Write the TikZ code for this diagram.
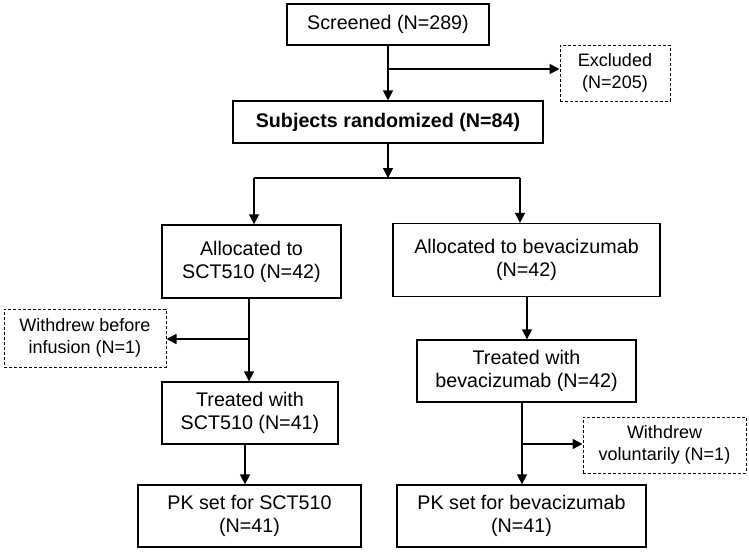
\documentclass[tikz,border=0pt]{standalone}
\usepackage{fontspec}
\setmainfont{Liberation Sans}
\usetikzlibrary{arrows.meta}
\begin{document}
\begin{tikzpicture}[x=1pt,y=-1pt,
  box/.style={draw, line width=1.3pt, inner sep=0pt, align=center,
    font=\fontsize{19.7}{23}\selectfont},
  dbox/.style={draw, line width=1pt, dash pattern=on 3pt off 2pt, inner sep=0pt, align=center,
    font=\fontsize{18}{21.5}\selectfont},
  ln/.style={line width=1.5pt},
  arr/.style={line width=1.5pt, -{Triangle[length=10pt,width=10pt]}}]
\useasboundingbox (0,0) rectangle (749,552);
\node[box, minimum width=202pt, minimum height=41pt] (scr) at (388,24.5) {Screened (N=289)};
\node[dbox, minimum width=110pt, minimum height=56pt] (exc) at (615,73) {Excluded\\(N=205)};
\node[box, minimum width=310pt, minimum height=42pt, font=\fontsize{19.7}{23}\selectfont\bfseries] (rand) at (388,122) {Subjects randomized (N=84)};
\node[box, minimum width=179pt, minimum height=73pt] (aL) at (251.5,261.5) {Allocated to\\SCT510 (N=42)};
\node[box, minimum width=267pt, minimum height=73pt] (aR) at (526.5,260) {Allocated to bevacizumab\\(N=42)};
\node[dbox, minimum width=162pt, minimum height=58pt] (wL) at (85,338) {Withdrew before\\infusion (N=1)};
\node[box, minimum width=176pt, minimum height=62pt] (tL) at (250,413) {Treated with\\SCT510 (N=41)};
\node[box, minimum width=219pt, minimum height=62pt] (tR) at (526.5,371) {Treated with\\bevacizumab (N=42)};
\node[dbox, minimum width=163pt, minimum height=56pt] (wR) at (664.5,445) {Withdrew\\voluntarily (N=1)};
\node[box, minimum width=223pt, minimum height=62pt] (pL) at (249.5,516) {PK set for SCT510\\(N=41)};
\node[box, minimum width=249pt, minimum height=62pt] (pR) at (521.5,516) {PK set for bevacizumab\\(N=41)};
% screened -> randomized, excluded
\coordinate (j1) at (388,69);
\draw[arr] (scr.south) -- (rand.north);
\draw[arr] (j1) -- (j1 -| exc.west);
% randomized -> split
\coordinate (s) at (388,178);
\coordinate (sL) at (254,178);
\coordinate (sR) at (520,178);
\draw[arr] (rand.south) -- (s);
\draw[ln] (sL) -- (sR);
\draw[arr] (sL) -- (sL |- aL.north);
\draw[arr] (sR) -- (sR |- aR.north);
% left branch
\coordinate (lx) at (249,0);
\coordinate (j2) at (249,339);
\draw[arr] (aL.south -| lx) -- (tL.north -| lx);
\draw[arr] (j2) -- (j2 -| wL.east);
\coordinate (lx2) at (245,0);
\draw[arr] (tL.south -| lx2) -- (pL.north -| lx2);
% right branch
\coordinate (rx) at (527,0);
\draw[arr] (aR.south -| rx) -- (tR.north -| rx);
\coordinate (rx2) at (522,0);
\coordinate (j3) at (522,444);
\draw[arr] (tR.south -| rx2) -- (pR.north -| rx2);
\draw[arr] (j3) -- (j3 -| wR.west);
\end{tikzpicture}
\end{document}
